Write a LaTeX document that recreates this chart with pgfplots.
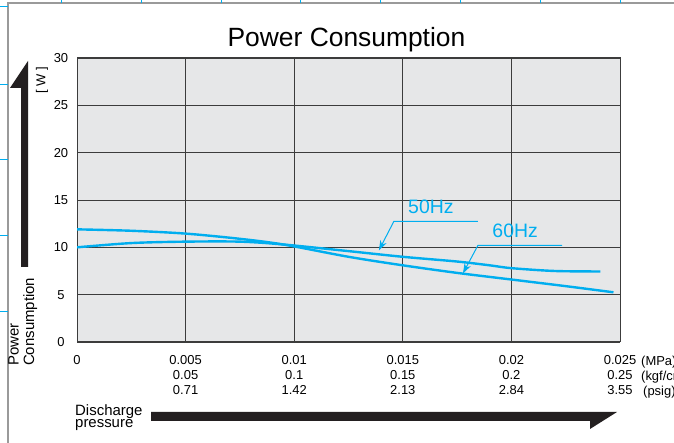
\documentclass[border=0pt]{standalone}
\usepackage{pgfplots}
\pgfplotsset{compat=1.18}
\usepackage{fontspec}
\setmainfont{Liberation Sans}
\usetikzlibrary{arrows.meta}
\definecolor{cyanc}{HTML}{00AEEF}
\definecolor{bgc}{HTML}{E6E7E8}
\definecolor{gridc}{HTML}{3C3C3C}
\definecolor{framec}{HTML}{9A9A9A}
\definecolor{arrc}{HTML}{231F20}
\begin{document}
\begin{tikzpicture}
\path[use as bounding box] (0,0) rectangle (674bp,443bp);
\begin{axis}[
  at={(77bp,101bp)}, anchor=south west,
  width=543bp, height=284bp, scale only axis,
  xmin=0, xmax=0.025, ymin=0, ymax=30,
  xtick={0,0.005,0.01,0.015,0.02,0.025},
  xticklabels={0,{0.005\\0.05\\0.71},{0.01\\0.1\\1.42},{0.015\\0.15\\2.13},{0.02\\0.2\\2.84},{0.025\\0.25\\3.55}},
  scaled x ticks=false,
  ytick={0,5,10,15,20,25,30},
  grid=major,
  major grid style={draw=gridc, line width=0.9bp},
  axis line style={draw=gridc, line width=1bp},
  major tick length=0pt,
  axis background/.style={fill=bgc},
  xticklabel style={align=center, font=\fontsize{13}{15}\selectfont, yshift=-10bp},
  yticklabel style={anchor=center, xshift=-16bp, font=\fontsize{13}{14}\selectfont},
  /pgf/number format/assume math mode=true,
]
% 50Hz
\addplot[cyanc, line width=2.4bp, smooth, tension=0.5] coordinates {
 (0,10.0) (0.0025,10.45) (0.005,10.6) (0.0075,10.6) (0.0095,10.3)
 (0.0125,9.6) (0.015,9.0) (0.0175,8.5) (0.019,8.1) (0.02,7.8)
 (0.022,7.5) (0.0241,7.45)};
% 60Hz
\addplot[cyanc, line width=2.4bp, smooth, tension=0.5] coordinates {
 (0,11.9) (0.0025,11.75) (0.005,11.45) (0.0075,10.9) (0.0095,10.3)
 (0.0125,9.0) (0.015,8.1) (0.0175,7.3) (0.02,6.6) (0.0225,5.9) (0.0247,5.25)};
\draw[cyanc, line width=1bp, -{Stealth[length=10bp,width=7bp]}]
  (axis cs:0.01846,12.75) -- (axis cs:0.01459,12.75) -- (axis cs:0.0139,9.68);
\draw[cyanc, line width=1bp, -{Stealth[length=10bp,width=7bp]}]
  (axis cs:0.02233,10.21) -- (axis cs:0.01846,10.21) -- (axis cs:0.01777,7.25);
\node[cyanc, anchor=base west, inner sep=0, font=\fontsize{19.5}{20}\selectfont] at (axis cs:0.01524,13.57) {50Hz};
\node[cyanc, anchor=base west, inner sep=0, font=\fontsize{19.5}{20}\selectfont] at (axis cs:0.01912,11.03) {60Hz};
\end{axis}
\begin{scope}[x=1bp, y=-1bp, yshift=443bp]
  % frame
  \draw[framec, line width=1.3bp] (8,443) -- (8,3) -- (674,3);
  \foreach \xx in {61,141,221,300,380,460,540,620}
    \draw[cyanc, line width=1bp] (\xx,0) -- (\xx,3);
  \foreach \yy in {7,85,160,236,312}
    \draw[cyanc, line width=1bp] (0,\yy) -- (8,\yy);
  % title
  \node[anchor=base, inner sep=0, font=\fontsize{26.5}{28}\selectfont] at (346.5,47) {Power Consumption};
  % y arrow
  \fill[arrc] (21,267) -- (28,267) -- (28,61) -- (10,88) -- (21,88) -- cycle;
  \node[rotate=90, anchor=base west, inner sep=0, font=\fontsize{15}{16}\selectfont] at (18.5,366) {Power};
  \node[rotate=90, anchor=base west, inner sep=0, font=\fontsize{15}{16}\selectfont] at (34,366) {Consumption};
  \node[rotate=90, inner sep=0, font=\fontsize{13}{14}\selectfont] at (42,80) {[ W ]};
  % x arrow
  \fill[arrc] (151,412) -- (617,412) -- (590,429) -- (590,421) -- (151,421) -- cycle;
  \node[anchor=base west, inner sep=0, font=\fontsize{15}{16}\selectfont] at (75,416) {Discharge};
  \node[anchor=base west, inner sep=0, font=\fontsize{15}{16}\selectfont] at (75,428) {pressure};
  % units
  \node[anchor=base west, inner sep=0, font=\fontsize{13}{14}\selectfont] at (641,366) {(MPa)};
  \node[anchor=base west, inner sep=0, font=\fontsize{13}{14}\selectfont] at (641,381) {(kgf/cm\textsuperscript{2})};
  \node[anchor=base west, inner sep=0, font=\fontsize{13}{14}\selectfont] at (643,396) {(psig)};
\end{scope}
\end{tikzpicture}
\end{document}
